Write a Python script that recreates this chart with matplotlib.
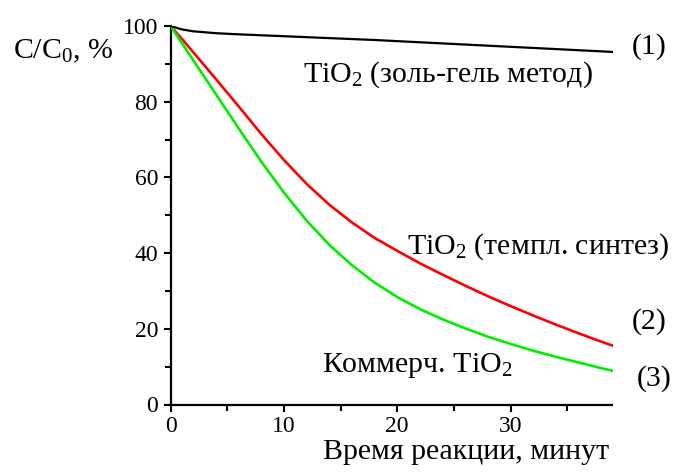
import matplotlib
matplotlib.use("Agg")
import matplotlib.pyplot as plt
from matplotlib.patches import Rectangle

plt.rcParams["font.family"] = "Liberation Serif"
plt.rcParams["mathtext.fontset"] = "custom"
plt.rcParams["mathtext.rm"] = "Liberation Serif"
plt.rcParams["mathtext.it"] = "Liberation Serif:italic"

# reaction time, minutes
time_min = [0, 1, 2, 4, 6, 8, 10, 12, 14, 16, 18, 20, 22, 24, 26, 28, 30, 32, 34, 36, 38, 40]
# C/C0, %
sol_gel = [100, 99.1, 98.6, 98.1, 97.8, 97.55, 97.3, 97.05, 96.8, 96.55, 96.3, 96.0,
           95.7, 95.4, 95.1, 94.8, 94.5, 94.2, 93.9, 93.6, 93.3, 93.0]
templ = [100, 96.6, 93.1, 86.0, 78.8, 71.5, 64.6, 58.3, 52.8, 48.1, 44.0, 40.6,
         37.3, 34.3, 31.4, 28.6, 26.0, 23.5, 21.1, 18.8, 16.6, 14.5]
commerc = [100, 95.5, 91.0, 82.0, 73.0, 64.2, 56.0, 48.6, 42.2, 36.8, 32.2, 28.4,
           25.2, 22.5, 20.1, 17.9, 16.0, 14.2, 12.6, 11.1, 9.6, 8.2]

x_ticks = [0, 10, 20, 30, 40]
y_ticks = [0, 20, 40, 60, 80, 100]

W, H = 673, 472
fig = plt.figure(figsize=(W / 100, H / 100), dpi=100)
ax = fig.add_axes([170.5 / W, 67.5 / H, 453.5 / W, 378.5 / H])

ax.plot(time_min, sol_gel, color="black", lw=1.6, zorder=4)
ax.plot(time_min, templ, color="#ff0000", lw=1.9, zorder=3)
ax.plot(time_min, commerc, color="#00ee00", lw=1.9, zorder=3)

ax.set_xlim(0, 40)
ax.set_ylim(0, 100)
ax.set_xticks(x_ticks)
ax.set_yticks(y_ticks)
ax.set_xticks([5, 15, 25, 35], minor=True)
ax.set_yticks([10, 30, 50, 70, 90], minor=True)
for s in ["top", "right"]:
    ax.spines[s].set_visible(False)
for s in ["left", "bottom"]:
    ax.spines[s].set_linewidth(1.6)
ax.tick_params(which="major", direction="out", length=5, width=1.5, labelsize=17)
ax.tick_params(axis="x", which="major", pad=3.5)
ax.tick_params(axis="y", which="major", pad=4)
ax.tick_params(which="minor", direction="out", length=4, width=1.5)

# the picture is cut off on the right
fig.add_artist(Rectangle((613 / W, 0), 1, 1, transform=fig.transFigure,
                         facecolor="white", edgecolor="none", zorder=5))

fs = 21.5
fig.text(11.69, 85.3, r"TiO$_\mathrm{2}$ (золь-гель метод)", transform=ax.transData,
         fontsize=fs, va="baseline", ha="left", zorder=6)
fig.text(20.83, 39.9, r"TiO$_\mathrm{2}$ (темпл. синтез)", transform=ax.transData,
         fontsize=fs, va="baseline", ha="left", zorder=6)
fig.text(13.34, 8.67, r"Коммерч. TiO$_\mathrm{2}$", transform=ax.transData,
         fontsize=fs, va="baseline", ha="left", zorder=6)
fig.text(40.68, 94.7, "(1)", transform=ax.transData, fontsize=fs, va="center", ha="left", zorder=6)
fig.text(40.68, 21.8, "(2)", transform=ax.transData, fontsize=fs, va="center", ha="left", zorder=6)
fig.text(41.1, 6.8, "(3)", transform=ax.transData, fontsize=fs, va="center", ha="left", zorder=6)

fig.text(12.7 / W, 1 - 58.3 / H, r"C/C$_\mathrm{0}$, %", fontsize=fs, va="baseline", ha="left", zorder=6)
fig.text(323 / W, 1 - 459 / H, "Время реакции, минут", fontsize=fs, va="baseline", ha="left", zorder=6)

fig.savefig("out.png", dpi=100)
